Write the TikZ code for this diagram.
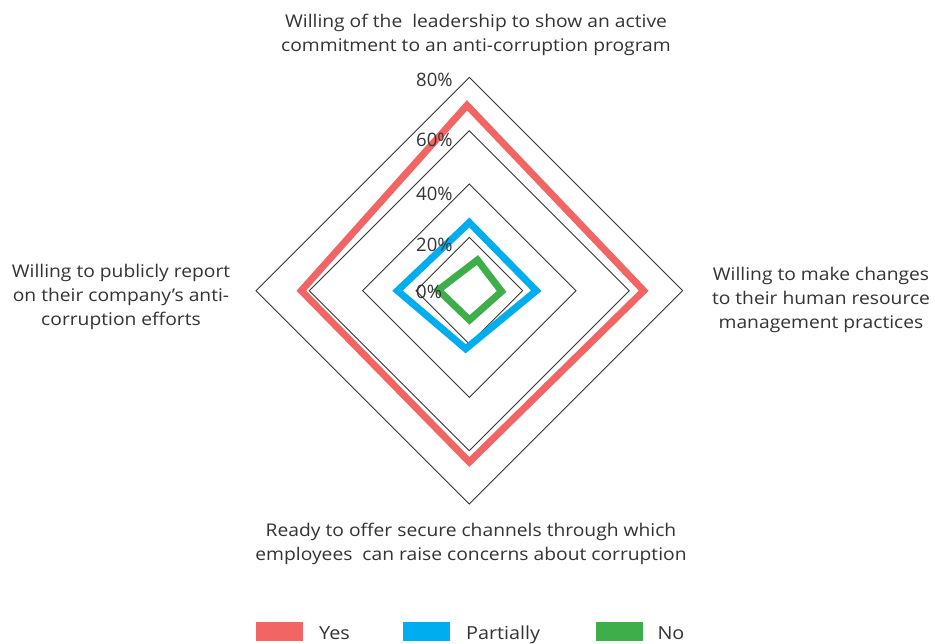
\documentclass[tikz,border=0pt]{standalone}
\usepackage{fontspec}
\setmainfont{Open Sans}[FakeStretch=1.1]
\newfontfamily\tickfont{Open Sans}
\usetikzlibrary{calc}
\begin{document}
\begin{tikzpicture}[x=1pt,y=-1pt,
  grid/.style={draw=black!80,line width=0.9pt},
  series/.style={line width=7pt,miter limit=10,line join=miter},
  lbl/.style={text=black!80,font=\fontsize{17.5}{24}\selectfont,align=center,inner sep=0pt},
  tick/.style={text=black!80,font=\tickfont\fontsize{18.5}{22}\selectfont,anchor=west,inner sep=0pt},
  legbox/.style={minimum width=47pt,minimum height=19pt,inner sep=0pt},
  legtext/.style={text=black!80,font=\fontsize{18}{22}\selectfont,anchor=base west,inner sep=0pt}]
\definecolor{yescol}{RGB}{242,101,101}
\definecolor{partcol}{RGB}{0,174,239}
\definecolor{nocol}{RGB}{61,174,74}
\useasboundingbox (0,0) rectangle (935,644);
\fill[white] (0,0) rectangle (935,644);
\coordinate (c) at (469.3,290.7);
% grid diamonds
\foreach \r in {53.3,106.7,160,213.3}{
  \draw[grid] ($(c)+(0,-\r)$) -- ($(c)+(\r,0)$) -- ($(c)+(0,\r)$) -- ($(c)+(-\r,0)$) -- cycle;
}
% Yes
\coordinate (y1) at (467,105.3);
\coordinate (y2) at (643.7,290.7);
\coordinate (y3) at (469.3,462);
\coordinate (y4) at (301.3,290.7);
\draw[series,yescol] (y1) -- (y2) -- (y3) -- (y4) -- cycle;
% Partially
\coordinate (p1) at (469.3,222.5);
\coordinate (p2) at (536.3,290.7);
\coordinate (p3) at (465.7,348.8);
\coordinate (p4) at (397.5,290.7);
\draw[series,partcol] (p1) -- (p2) -- (p3) -- (p4) -- cycle;
% No
\coordinate (n1) at (477.5,260);
\coordinate (n2) at (501.6,291.5);
\coordinate (n3) at (469.5,320);
\coordinate (n4) at (438.3,290);
\draw[series,nocol] (n1) -- (n2) -- (n3) -- (n4) -- cycle;
% ticks
\node[tick] (t80) at (416,80) {80\%};
\node[tick] (t60) at (416,140) {60\%};
\node[tick] (t40) at (416,194) {40\%};
\node[tick] (t20) at (416,245) {20\%};
\node[tick] (t0) at (416,292) {0\%};
% axis labels
\node[lbl] (ltop) at (476,35) {Willing of the~ leadership to show an active\\commitment to an anti-corruption program};
\node[lbl] (lright) at (821,300) {Willing to make changes\\to their human resource\\management practices};
\node[lbl] (lleft) at (121,297) {Willing to publicly report\\on their company’s anti-\\corruption efforts};
\node[lbl] (lbottom) at (471,544) {Ready to offer secure channels through which\\employees~ can raise concerns about corruption};
% legend
\node[legbox,fill=yescol] (ky) at (279.7,631.2) {};
\node[legtext] (ty) at (319,639) {Yes};
\node[legbox,fill=partcol] (kp) at (426.3,631.2) {};
\node[legtext] (tp) at (466,639) {Partially};
\node[legbox,fill=nocol] (kn) at (619.7,631.2) {};
\node[legtext] (tn) at (657.3,639) {No};
\end{tikzpicture}
\end{document}
